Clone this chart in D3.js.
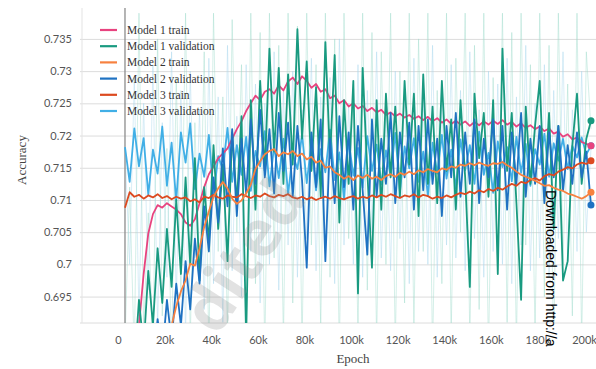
<!DOCTYPE html>
<html>
<head>
<meta charset="utf-8">
<script src="https://cdn.jsdelivr.net/npm/d3@7"></script>
<style>
  body { margin: 0; background: #fff; }
  svg { display: block; }
</style>
</head>
<body>
<svg id="chart" width="596" height="369"></svg>
<script>
// sampled every 2k epochs, first sample at 3k
const epochStart = 3000;
const epochStep = 2000;

const xTicks = [0, 20000, 40000, 60000, 80000, 100000, 120000, 140000, 160000, 180000, 200000];
const xTickLabels = ['0', '20k', '40k', '60k', '80k', '100k', '120k', '140k', '160k', '180k', '200k'];
const yTicks = [0.695, 0.7, 0.705, 0.71, 0.715, 0.72, 0.725, 0.73, 0.735];
const yTickLabels = ['0.695', '0.7', '0.705', '0.71', '0.715', '0.72', '0.725', '0.73', '0.735'];

const seriesNames = ['Model 1 train', 'Model 1 validation', 'Model 2 train', 'Model 2 validation', 'Model 3 train', 'Model 3 validation'];

const m1Train = [
  0.6700, 0.6760, 0.6830, 0.6905, 0.6985, 0.7048, 0.7078, 0.7092, 0.7088, 0.7095,
  0.7090, 0.7085, 0.7078, 0.7065, 0.7060, 0.7070, 0.7095, 0.7120, 0.7140, 0.7152,
  0.7165, 0.7172, 0.7180, 0.7195, 0.7210, 0.7222, 0.7238, 0.7250, 0.7262, 0.7255,
  0.7268, 0.7272, 0.7265, 0.7278, 0.7270, 0.7284, 0.7290, 0.7280, 0.7292, 0.7285,
  0.7274, 0.7280, 0.7268, 0.7272, 0.7258, 0.7262, 0.7250, 0.7255, 0.7245, 0.7250,
  0.7242, 0.7246, 0.7238, 0.7243, 0.7236, 0.7240, 0.7232, 0.7236, 0.7230, 0.7234,
  0.7228, 0.7232, 0.7226, 0.7230, 0.7224, 0.7229, 0.7222, 0.7227, 0.7220, 0.7225,
  0.7218, 0.7223, 0.7217, 0.7222, 0.7215, 0.7221, 0.7216, 0.7222, 0.7217, 0.7223,
  0.7218, 0.7224, 0.7217, 0.7221, 0.7214, 0.7219, 0.7212, 0.7216, 0.7210, 0.7214,
  0.7207, 0.7211, 0.7203, 0.7206, 0.7198, 0.7202, 0.7194, 0.7197, 0.7190, 0.7187,
  0.7184
];

const m1Val = [
  0.6860, 0.6895, 0.6840, 0.6945, 0.6870, 0.6990, 0.6905, 0.7025, 0.6940, 0.7055,
  0.6965, 0.7100, 0.6985, 0.7135, 0.7000, 0.7165, 0.6975, 0.7120, 0.7035, 0.7185,
  0.7055, 0.7155, 0.7005, 0.7205, 0.7095, 0.7230, 0.6885, 0.7255, 0.7085, 0.7285,
  0.7145, 0.7335, 0.7175, 0.7305, 0.7125, 0.7295, 0.7155, 0.7365, 0.7195, 0.7315,
  0.7145, 0.7275, 0.7105, 0.7345, 0.7165, 0.7325, 0.7065, 0.7255, 0.7125, 0.7285,
  0.6955, 0.7305, 0.7145, 0.6995, 0.7255, 0.7085, 0.7265, 0.7135, 0.7245, 0.7105,
  0.7285, 0.7155, 0.7265, 0.7075, 0.7295, 0.7125, 0.7245, 0.7095, 0.7285, 0.7145,
  0.7225, 0.7085, 0.7255, 0.7135, 0.6965, 0.7265, 0.7165, 0.7235, 0.7105, 0.7255,
  0.6985, 0.7335, 0.7145, 0.7235, 0.7095, 0.6945, 0.7245, 0.7125, 0.7215, 0.7285,
  0.7105, 0.7235, 0.7055, 0.7215, 0.6975, 0.7005, 0.7185, 0.7265, 0.7125, 0.7195,
  0.7223
];

const m2Train = [
  0.6680, 0.6700, 0.6720, 0.6740, 0.6760, 0.6790, 0.6810, 0.6830, 0.6850, 0.6880,
  0.6905, 0.6935, 0.6958, 0.6975, 0.7001, 0.6998, 0.7025, 0.7058, 0.7082, 0.7105,
  0.7118, 0.7128, 0.7118, 0.7102, 0.7094, 0.7099, 0.7110, 0.7124, 0.7148, 0.7160,
  0.7171, 0.7176, 0.7179, 0.7168, 0.7174, 0.7171, 0.7176, 0.7168, 0.7172, 0.7163,
  0.7167, 0.7158, 0.7161, 0.7150, 0.7152, 0.7143, 0.7139, 0.7133, 0.7137, 0.7131,
  0.7138, 0.7134, 0.7139, 0.7133, 0.7136, 0.7131, 0.7137, 0.7140, 0.7136, 0.7142,
  0.7139, 0.7144, 0.7140, 0.7146, 0.7143, 0.7148, 0.7145, 0.7143, 0.7149, 0.7147,
  0.7152, 0.7150, 0.7155, 0.7153, 0.7157, 0.7154, 0.7158, 0.7155, 0.7153, 0.7157,
  0.7156, 0.7159, 0.7154, 0.7150, 0.7144, 0.7139, 0.7136, 0.7133, 0.7130, 0.7126,
  0.7122, 0.7123, 0.7119, 0.7116, 0.7114, 0.7110, 0.7108, 0.7105, 0.7102, 0.7106,
  0.7112
];

const m2Val = [
  0.6800, 0.6810, 0.6790, 0.6820, 0.6800, 0.6830, 0.6840, 0.6915, 0.6860, 0.6945,
  0.6880, 0.6970, 0.6905, 0.7005, 0.6930, 0.7040, 0.6970, 0.7090, 0.7020, 0.7135,
  0.7065, 0.7180, 0.7090, 0.7210, 0.7075, 0.7195, 0.7110, 0.7225, 0.7125, 0.7240,
  0.7135, 0.7210, 0.7110, 0.7235, 0.7145, 0.7220, 0.7105, 0.7215, 0.7130, 0.6995,
  0.7205, 0.7120, 0.7225, 0.7005, 0.7195, 0.7095, 0.7230, 0.7120, 0.7205, 0.7085,
  0.7215, 0.7115, 0.7015, 0.7225, 0.7105, 0.7195, 0.7125, 0.7235, 0.7095, 0.7205,
  0.7135, 0.7220, 0.7085, 0.7215, 0.7115, 0.7225, 0.7125, 0.7195, 0.7075, 0.7215,
  0.7135, 0.7235, 0.7105, 0.7205, 0.7125, 0.7225, 0.7095, 0.7195, 0.7135, 0.7225,
  0.7115, 0.7215, 0.7085, 0.7205, 0.7125, 0.7235, 0.7105, 0.7195, 0.7125, 0.7215,
  0.7095, 0.7205, 0.7135, 0.7215, 0.7115, 0.7185, 0.7125, 0.7205, 0.7135, 0.7175,
  0.7092
];

const m3Train = [
  0.7088, 0.7112, 0.7105, 0.7108, 0.7102, 0.7107, 0.7104, 0.7109, 0.7103, 0.7106,
  0.7101, 0.7105, 0.7102, 0.7104, 0.7098, 0.7101, 0.7096, 0.7105, 0.7103, 0.7108,
  0.7104, 0.7102, 0.7107, 0.7105, 0.7104, 0.7109, 0.7106, 0.7103, 0.7107, 0.7105,
  0.7110, 0.7106, 0.7104, 0.7108, 0.7106, 0.7109, 0.7104, 0.7102, 0.7105, 0.7101,
  0.7104, 0.7100, 0.7103, 0.7105, 0.7102, 0.7106, 0.7103, 0.7101, 0.7104, 0.7106,
  0.7102, 0.7105, 0.7103, 0.7107, 0.7104, 0.7108, 0.7105, 0.7109, 0.7106, 0.7103,
  0.7107, 0.7105, 0.7109, 0.7104, 0.7108, 0.7106, 0.7102, 0.7105, 0.7103, 0.7107,
  0.7104, 0.7108, 0.7111, 0.7109, 0.7113, 0.7110, 0.7115, 0.7112, 0.7117, 0.7114,
  0.7119, 0.7116, 0.7121, 0.7125, 0.7122, 0.7128, 0.7126, 0.7131, 0.7134, 0.7130,
  0.7137, 0.7140, 0.7138, 0.7144, 0.7147, 0.7151, 0.7149, 0.7155, 0.7158, 0.7156,
  0.7161
];

const m3Val = [
  0.7182, 0.7128, 0.7211, 0.7152, 0.7196, 0.7108, 0.7178, 0.7141, 0.7214, 0.7122,
  0.7189, 0.7098, 0.7205, 0.7158, 0.7219, 0.7117, 0.7172, 0.7136, 0.7201, 0.7105,
  0.7168, 0.7147, 0.7212, 0.7128, 0.7185, 0.7139, 0.7198, 0.7114, 0.7176, 0.7152,
  0.7207, 0.7121, 0.7183, 0.7134, 0.7195, 0.7109, 0.7171, 0.7148, 0.7202, 0.7126,
  0.7188, 0.7115, 0.7179, 0.7143, 0.7209, 0.7131, 0.7174, 0.7102, 0.7192, 0.7138,
  0.7181, 0.7119, 0.7199, 0.7145, 0.7186, 0.7124, 0.7177, 0.7137, 0.7204, 0.7112,
  0.7183, 0.7149, 0.7196, 0.7128, 0.7175, 0.7106, 0.7189, 0.7141, 0.7201, 0.7133,
  0.7178, 0.7118, 0.7194, 0.7146, 0.7185, 0.7125, 0.7206, 0.7139, 0.7173, 0.7111,
  0.7191, 0.7151, 0.7182, 0.7129, 0.7198, 0.7142, 0.7187, 0.7122, 0.7179, 0.7155,
  0.7203, 0.7136, 0.7188, 0.7161, 0.7195, 0.7148, 0.7184, 0.7166, 0.7197, 0.7171,
  0.7184
];

// unsmoothed validation curves, drawn faint behind
const m1ValRaw = [
  0.688, 0.712, 0.686, 0.739, 0.690, 0.708, 0.687, 0.735, 0.692, 0.718,
  0.686, 0.729, 0.695, 0.739, 0.688, 0.722, 0.699, 0.733, 0.686, 0.739,
  0.702, 0.726, 0.689, 0.738, 0.705, 0.731, 0.690, 0.739, 0.697, 0.736,
  0.686, 0.739, 0.701, 0.734, 0.688, 0.739, 0.694, 0.737, 0.687, 0.739,
  0.703, 0.731, 0.690, 0.739, 0.698, 0.735, 0.686, 0.739, 0.704, 0.728,
  0.689, 0.739, 0.696, 0.736, 0.688, 0.733, 0.700, 0.739, 0.687, 0.730,
  0.694, 0.739, 0.690, 0.735, 0.702, 0.739, 0.686, 0.727, 0.697, 0.739,
  0.689, 0.732, 0.705, 0.739, 0.688, 0.734, 0.693, 0.739, 0.686, 0.729,
  0.699, 0.739, 0.691, 0.736, 0.687, 0.739, 0.703, 0.731, 0.689, 0.739,
  0.695, 0.734, 0.686, 0.739, 0.700, 0.728, 0.692, 0.739, 0.688, 0.733,
  0.721
];

const m3ValRaw = [
  0.718, 0.700, 0.729, 0.692, 0.725, 0.696, 0.731, 0.690, 0.722, 0.698,
  0.733, 0.694, 0.727, 0.689, 0.730, 0.701, 0.724, 0.693, 0.732, 0.697,
  0.726, 0.691, 0.734, 0.699, 0.723, 0.695, 0.731, 0.702, 0.728, 0.694,
  0.725, 0.700, 0.733, 0.696, 0.727, 0.703, 0.730, 0.698, 0.724, 0.704,
  0.732, 0.699, 0.726, 0.702, 0.729, 0.697, 0.735, 0.703, 0.725, 0.700,
  0.731, 0.698, 0.727, 0.705, 0.733, 0.701, 0.724, 0.699, 0.730, 0.704,
  0.728, 0.697, 0.732, 0.702, 0.726, 0.700, 0.734, 0.698, 0.725, 0.703,
  0.731, 0.701, 0.727, 0.699, 0.733, 0.704, 0.724, 0.698, 0.730, 0.702,
  0.728, 0.700, 0.732, 0.697, 0.726, 0.703, 0.734, 0.699, 0.725, 0.701,
  0.731, 0.698, 0.727, 0.704, 0.733, 0.700, 0.724, 0.702, 0.730, 0.705,
  0.718
];

const colors = {
  'Model 1 train': '#e8437f',
  'Model 1 validation': '#199a80',
  'Model 2 train': '#f7813f',
  'Model 2 validation': '#1f72c2',
  'Model 3 train': '#dc4a20',
  'Model 3 validation': '#41afe6'
};

const seriesData = {
  'Model 1 train': m1Train,
  'Model 1 validation': m1Val,
  'Model 2 train': m2Train,
  'Model 2 validation': m2Val,
  'Model 3 train': m3Train,
  'Model 3 validation': m3Val
};

const width = 596, height = 369;
const plot = { left: 82, right: 596, top: 8, bottom: 323 };

const svg = d3.select('#chart');
svg.append('rect').attr('width', width).attr('height', height).attr('fill', '#fff');

const x = d3.scaleLinear().domain([0, 200000]).range([118, 584]);
const y = d3.scaleLinear().domain([0.6909, 0.7398]).range([plot.bottom, plot.top]);

// horizontal grid + y labels
svg.append('g')
  .attr('transform', 'translate(80,0)')
  .call(d3.axisLeft(y).tickValues(yTicks).tickFormat((d, i) => yTickLabels[i])
    .tickSize(-(plot.right - 80)).tickPadding(8))
  .call(g => g.select('.domain').remove())
  .call(g => g.selectAll('line').attr('stroke', '#dcdcdc'))
  .call(g => g.selectAll('text').attr('fill', '#555').style('font-family', 'Lato, sans-serif').style('font-size', '11px'));

svg.append('line')
  .attr('x1', 80).attr('x2', plot.right).attr('y1', plot.bottom).attr('y2', plot.bottom)
  .attr('stroke', '#dcdcdc');
svg.append('line')
  .attr('x1', plot.left).attr('x2', plot.left).attr('y1', plot.top).attr('y2', plot.bottom)
  .attr('stroke', '#e3e3e3');

// x labels
svg.append('g')
  .attr('transform', `translate(0,${plot.bottom})`)
  .call(d3.axisBottom(x).tickValues(xTicks).tickFormat((d, i) => xTickLabels[i]).tickSize(0).tickPadding(13))
  .call(g => g.select('.domain').remove())
  .call(g => g.selectAll('text').attr('fill', '#555').style('font-family', 'Lato, sans-serif').style('font-size', '11px'));

svg.append('defs').append('clipPath').attr('id', 'clip')
  .append('rect').attr('x', plot.left).attr('y', plot.top)
  .attr('width', plot.right - plot.left).attr('height', plot.bottom - plot.top);

const lines = svg.append('g').attr('clip-path', 'url(#clip)');

const line = d3.line()
  .x((d, i) => x(epochStart + i * epochStep))
  .y(d => y(d));

lines.append('path').datum(m3ValRaw).attr('d', line)
  .attr('fill', 'none').attr('stroke', '#a9d8ee').attr('stroke-opacity', 0.45).attr('stroke-width', 1);
lines.append('path').datum(m1ValRaw).attr('d', line)
  .attr('fill', 'none').attr('stroke', '#9fdccd').attr('stroke-opacity', 0.45).attr('stroke-width', 1);

// first-epoch marker line
lines.append('line')
  .attr('x1', x(epochStart)).attr('x2', x(epochStart))
  .attr('y1', plot.top).attr('y2', plot.bottom)
  .attr('stroke', '#8c8c8c').attr('stroke-width', 1.3);

const drawOrder = ['Model 3 validation', 'Model 1 train', 'Model 1 validation', 'Model 2 validation', 'Model 3 train', 'Model 2 train'];
drawOrder.forEach(name => {
  lines.append('path').datum(seriesData[name]).attr('d', line)
    .attr('fill', 'none').attr('stroke', colors[name])
    .attr('stroke-width', 1.8).attr('stroke-linejoin', 'round');
});

// end-point dots
drawOrder.forEach(name => {
  const vals = seriesData[name];
  const i = vals.length - 1;
  svg.append('circle')
    .attr('cx', x(epochStart + i * epochStep)).attr('cy', y(vals[i]))
    .attr('r', 3.5).attr('fill', colors[name]);
});

// legend
const legend = svg.append('g').attr('transform', 'translate(100,30)');
seriesNames.forEach((name, i) => {
  const row = legend.append('g').attr('transform', `translate(0,${i * 16.2})`);
  row.append('line').attr('x1', 0).attr('x2', 17).attr('y1', 0).attr('y2', 0)
    .attr('stroke', colors[name]).attr('stroke-width', 2.2);
  row.append('text').attr('x', 27).attr('y', 4)
    .attr('fill', '#333').style('font-family', '"Liberation Serif", serif').style('font-size', '11.5px')
    .text(name);
});

// axis titles
svg.append('text')
  .attr('transform', 'translate(26,160) rotate(-90)')
  .attr('text-anchor', 'middle').attr('fill', '#444')
  .style('font-family', '"Liberation Serif", serif').style('font-size', '13px')
  .text('Accuracy');
svg.append('text')
  .attr('x', 353).attr('y', 363)
  .attr('text-anchor', 'middle').attr('fill', '#444')
  .style('font-family', '"Liberation Serif", serif').style('font-size', '13px')
  .text('Epoch');

// watermark fragment and download stamp
svg.append('text')
  .attr('transform', 'translate(308,198) rotate(-57)')
  .attr('text-anchor', 'end')
  .attr('fill', '#8a8a8a').attr('fill-opacity', 0.25)
  .style('font-family', '"Open Sans", sans-serif').style('font-size', '64px').style('font-weight', 'bold')
  .text('dited');

svg.append('text')
  .attr('transform', 'translate(546,190) rotate(90)')
  .attr('fill', '#000')
  .style('font-family', '"Liberation Sans", sans-serif').style('font-size', '14px')
  .text('Downloaded from http://a');
</script>
</body>
</html>
